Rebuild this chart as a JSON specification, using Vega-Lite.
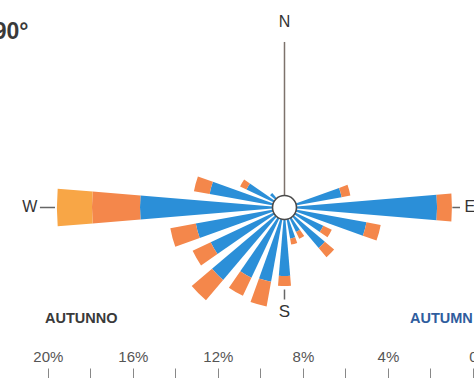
{
  "$schema": "https://vega.github.io/schema/vega-lite/v6.json",
  "width": 474,
  "height": 378,
  "autosize": {"type": "none"},
  "padding": 0,
  "background": "white",
  "config": {"view": {"stroke": null}, "font": "Liberation Sans"},
  "datasets": {
    "vento": [
      {"dir": 75, "classe": "1", "da": 0, "a": 2.73},
      {"dir": 75, "classe": "2", "da": 2.73, "a": 3.15},
      {"dir": 90, "classe": "1", "da": 0, "a": 7.18},
      {"dir": 90, "classe": "2", "da": 7.18, "a": 7.88},
      {"dir": 105, "classe": "1", "da": 0, "a": 3.92},
      {"dir": 105, "classe": "2", "da": 3.92, "a": 4.6},
      {"dir": 120, "classe": "1", "da": 0, "a": 2.02},
      {"dir": 120, "classe": "2", "da": 2.02, "a": 2.46},
      {"dir": 135, "classe": "1", "da": 0, "a": 2.49},
      {"dir": 135, "classe": "2", "da": 2.49, "a": 3.06},
      {"dir": 150, "classe": "1", "da": 0, "a": 1.27},
      {"dir": 150, "classe": "2", "da": 1.27, "a": 1.63},
      {"dir": 165, "classe": "1", "da": 0, "a": 1.49},
      {"dir": 165, "classe": "2", "da": 1.49, "a": 1.77},
      {"dir": 180, "classe": "1", "da": 0, "a": 3.22},
      {"dir": 180, "classe": "2", "da": 3.22, "a": 3.69},
      {"dir": 195, "classe": "1", "da": 0, "a": 3.55},
      {"dir": 195, "classe": "2", "da": 3.55, "a": 4.73},
      {"dir": 210, "classe": "1", "da": 0, "a": 3.65},
      {"dir": 210, "classe": "2", "da": 3.65, "a": 4.59},
      {"dir": 225, "classe": "1", "da": 0, "a": 4.47},
      {"dir": 225, "classe": "2", "da": 4.47, "a": 5.72},
      {"dir": 240, "classe": "1", "da": 0, "a": 3.84},
      {"dir": 240, "classe": "2", "da": 3.84, "a": 4.78},
      {"dir": 255, "classe": "1", "da": 0, "a": 4.24},
      {"dir": 255, "classe": "2", "da": 4.24, "a": 5.46},
      {"dir": 270, "classe": "1", "da": 0, "a": 6.8},
      {"dir": 270, "classe": "2", "da": 6.8, "a": 9.06},
      {"dir": 270, "classe": "3", "da": 9.06, "a": 10.71},
      {"dir": 285, "classe": "1", "da": 0, "a": 3.58},
      {"dir": 285, "classe": "2", "da": 3.58, "a": 4.33},
      {"dir": 300, "classe": "1", "da": 0, "a": 1.98},
      {"dir": 300, "classe": "2", "da": 1.98, "a": 2.31},
      {"dir": 315, "classe": "1", "da": 0, "a": 0.89}
    ],
    "punti": [
      {"punto": "N", "gradi": 0},
      {"punto": "E", "gradi": 90},
      {"punto": "S", "gradi": 180},
      {"punto": "W", "gradi": 270}
    ],
    "scritte": [
      {"testo": "90°"},
      {"testo": "AUTUNNO"},
      {"testo": "AUTUMN"}
    ]
  },
  "layer": [
    {
      "layer": [
        {
          "data": {"name": "vento"},
          "mark": {"type": "arc", "thetaOffset": -0.083, "theta2Offset": 0.083},
          "encoding": {
            "x": {"datum": 0, "type": "quantitative", "scale": {"domain": [-13.388, 8.918], "nice": false, "zero": false}, "axis": null},
            "y": {"datum": 0, "type": "quantitative", "scale": {"domain": [-8.024, 9.765], "nice": false, "zero": false}, "axis": null},
            "theta": {"field": "dir", "type": "quantitative", "scale": {"domain": [0, 360], "range": [0, 6.283185307179586]}, "stack": null},
            "theta2": {"field": "dir"},
            "radius": {"field": "da", "type": "quantitative", "scale": {"type": "linear", "domain": [0, 10], "range": [0, 212.5], "zero": true}, "stack": null},
            "radius2": {"field": "a"},
            "color": {"field": "classe", "type": "nominal", "scale": {"domain": ["1", "2", "3"], "range": ["#2b8fd8", "#f4874b", "#f8a646"]}, "legend": null}
          }
        },
        {
          "data": {"name": "punti"},
          "transform": [{"filter": "datum.punto === 'N'"}],
          "mark": {"type": "rule", "color": "#7d726c", "strokeWidth": 1.5},
          "encoding": {
            "x": {"datum": 0, "type": "quantitative", "axis": null},
            "y": {"datum": 0, "type": "quantitative", "axis": null},
            "y2": {"datum": 7.79}
          }
        },
        {
          "data": {"name": "punti"},
          "transform": [{"filter": "datum.punto === 'S'"}],
          "mark": {"type": "rule", "color": "#666666", "strokeWidth": 1.5},
          "encoding": {
            "x": {"datum": 0, "type": "quantitative", "axis": null},
            "y": {"datum": -3.86, "type": "quantitative", "axis": null},
            "y2": {"datum": -4.33}
          }
        },
        {
          "data": {"name": "punti"},
          "transform": [{"filter": "datum.punto === 'W'"}],
          "mark": {"type": "rule", "color": "#666666", "strokeWidth": 1.5},
          "encoding": {
            "x": {"datum": -10.8, "type": "quantitative", "axis": null},
            "x2": {"datum": -11.51},
            "y": {"datum": 0, "type": "quantitative", "axis": null}
          }
        },
        {
          "data": {"name": "punti"},
          "transform": [{"filter": "datum.punto === 'E'"}],
          "mark": {"type": "rule", "color": "#666666", "strokeWidth": 1.5},
          "encoding": {
            "x": {"datum": 7.9, "type": "quantitative", "axis": null},
            "x2": {"datum": 8.26},
            "y": {"datum": 0, "type": "quantitative", "axis": null}
          }
        },
        {
          "data": {"name": "punti"},
          "transform": [{"filter": "datum.punto === 'N'"}],
          "mark": {"type": "point", "shape": "circle", "size": 576, "filled": true, "fill": "white", "stroke": "#4a4a4a", "strokeWidth": 1.6, "opacity": 1},
          "encoding": {
            "x": {"datum": 0, "type": "quantitative", "axis": null},
            "y": {"datum": 0, "type": "quantitative", "axis": null}
          }
        },
        {
          "data": {"name": "punti"},
          "transform": [{"filter": "datum.punto === 'N' || datum.punto === 'E'"}],
          "mark": {"type": "text", "fontSize": 16, "color": "#333333", "align": "center", "baseline": "middle"},
          "encoding": {
            "x": {"datum": 0, "type": "quantitative", "axis": null},
            "y": {"datum": 0, "type": "quantitative", "axis": null},
            "theta": {"field": "gradi", "type": "quantitative", "stack": null},
            "radius": {"datum": 8.72, "type": "quantitative"},
            "text": {"field": "punto"}
          }
        },
        {
          "data": {"name": "punti"},
          "transform": [{"filter": "datum.punto === 'S'"}],
          "mark": {"type": "text", "fontSize": 17, "color": "#333333", "align": "center", "baseline": "middle"},
          "encoding": {
            "x": {"datum": 0, "type": "quantitative", "axis": null},
            "y": {"datum": 0, "type": "quantitative", "axis": null},
            "theta": {"field": "gradi", "type": "quantitative", "stack": null},
            "radius": {"datum": 4.92, "type": "quantitative"},
            "text": {"field": "punto"}
          }
        },
        {
          "data": {"name": "punti"},
          "transform": [{"filter": "datum.punto === 'W'"}],
          "mark": {"type": "text", "fontSize": 16, "color": "#333333", "align": "center", "baseline": "middle"},
          "encoding": {
            "x": {"datum": 0, "type": "quantitative", "axis": null},
            "y": {"datum": 0, "type": "quantitative", "axis": null},
            "theta": {"field": "gradi", "type": "quantitative", "stack": null},
            "radius": {"datum": 11.98, "type": "quantitative"},
            "text": {"field": "punto"}
          }
        },
        {
          "data": {"name": "scritte"},
          "transform": [{"filter": "datum.testo === '90°'"}],
          "mark": {"type": "text", "fontSize": 23, "fontWeight": "bold", "color": "#3a3a3a", "align": "right", "baseline": "middle"},
          "encoding": {
            "x": {"datum": -12.05, "type": "quantitative", "axis": null},
            "y": {"datum": 8.28, "type": "quantitative", "axis": null},
            "text": {"field": "testo"}
          }
        },
        {
          "data": {"name": "scritte"},
          "transform": [{"filter": "datum.testo === 'AUTUNNO'"}],
          "mark": {"type": "text", "fontSize": 14.5, "fontWeight": "bold", "color": "#3a3a3a", "align": "left", "baseline": "middle"},
          "encoding": {
            "x": {"datum": -11.27, "type": "quantitative", "axis": null},
            "y": {"datum": -5.247, "type": "quantitative", "axis": null},
            "text": {"field": "testo"}
          }
        },
        {
          "data": {"name": "scritte"},
          "transform": [{"filter": "datum.testo === 'AUTUMN'"}],
          "mark": {"type": "text", "fontSize": 14.5, "fontWeight": "bold", "color": "#2f5d9e", "align": "left", "baseline": "middle"},
          "encoding": {
            "x": {"datum": 5.906, "type": "quantitative", "axis": null},
            "y": {"datum": -5.247, "type": "quantitative", "axis": null},
            "text": {"field": "testo"}
          }
        }
      ]
    },
    {
      "data": {"values": [{"p": 0}, {"p": 20}]},
      "mark": {"type": "point", "opacity": 0},
      "encoding": {
        "x": {
          "field": "p",
          "type": "quantitative",
          "scale": {"domain": [-0.05, 22.25], "reverse": true, "nice": false, "zero": false},
          "axis": {
            "orient": "top",
            "offset": -378,
            "values": [0, 2, 4, 6, 8, 10, 12, 14, 16, 18, 20],
            "labelExpr": "datum.value === 0 ? '0' : (datum.value % 4 === 0 ? datum.value + '%' : '')",
            "tickSize": 10,
            "tickColor": "#888888",
            "tickWidth": 1,
            "domain": false,
            "grid": false,
            "title": null,
            "labelPadding": 4,
            "labelFontSize": 15,
            "labelColor": "#555555",
            "labelFont": "Liberation Sans",
            "labelFlush": false,
            "labelOverlap": false,
            "labelBound": false
          }
        }
      }
    }
  ],
  "resolve": {"scale": {"x": "independent", "y": "independent"}}
}
